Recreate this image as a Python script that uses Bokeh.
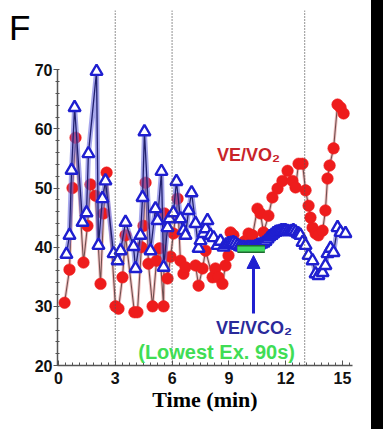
from bokeh.plotting import figure
from bokeh.models import Range1d, Span, Label, Arrow, NormalHead, FixedTicker, Div
from bokeh.layouts import row
from bokeh.embed import file_html
from bokeh.resources import INLINE

# ---- data ----
time_vo2 = [0.32, 0.58, 0.74, 0.90, 1.32, 1.53, 1.69, 1.95, 2.22, 2.38,
            2.54, 3.01, 3.17, 3.38, 3.54, 4.01, 4.17, 4.38, 4.49, 4.60,
            4.75, 4.97, 5.18, 5.34, 5.55, 5.60, 5.76, 5.92, 6.07, 6.29,
            6.44, 6.60, 6.71, 7.24, 7.40, 7.61, 7.77, 8.14, 8.29, 8.45,
            8.66, 8.82, 8.98, 9.09, 9.24, 9.61, 9.83, 10.04, 10.25, 10.51,
            10.67, 10.83, 11.09, 11.30, 11.57, 11.83, 12.10, 12.36, 12.52, 12.68,
            12.89, 13.05, 13.21, 13.31, 13.42, 13.58, 13.73, 13.95, 14.10, 14.21,
            14.32, 14.53, 14.74, 14.90, 15.06]
ve_vo2 = [30.6, 36.2, 50.0, 58.5, 37.4, 43.6, 50.6, 48.7, 33.8, 45.7,
          52.6, 30.0, 29.6, 34.9, 42.0, 29.0, 29.0, 40.0, 43.6, 50.9,
          37.2, 30.0, 37.7, 39.8, 30.0, 45.7, 34.7, 38.4, 42.3, 48.2,
          37.7, 35.5, 36.6, 36.9, 33.5, 36.4, 39.4, 34.9, 36.4, 34.9,
          33.8, 36.9, 38.6, 42.5, 42.0, 40.5, 41.0, 42.3, 42.0, 46.5,
          45.7, 42.5, 45.3, 48.4, 49.9, 51.2, 52.9, 51.2, 50.1, 54.1,
          54.1, 49.6, 47.0, 45.0, 43.3, 42.3, 42.0, 42.8, 46.2, 51.6,
          53.8, 56.7, 64.1, 63.6, 62.6]

time_vco2 = [0.42, 0.58, 0.69, 0.85, 1.27, 1.48, 1.58, 2.01, 2.11, 2.32,
             2.48, 2.91, 3.12, 3.28, 3.54, 3.96, 4.07, 4.33, 4.44, 4.54,
             4.86, 5.12, 5.23, 5.44, 5.55, 5.76, 5.86, 6.07, 6.23, 6.44,
             6.60, 6.71, 6.87, 7.03, 7.24, 7.40, 7.50, 7.66, 7.77, 7.87,
             8.03, 8.19, 8.40, 8.56, 8.72, 8.85, 8.98, 9.11, 9.24, 9.35,
             9.46, 9.57, 9.67, 9.78, 9.88, 9.99, 10.09, 10.20, 10.30, 10.41,
             10.51, 10.62, 10.72, 10.83, 10.94, 11.05, 11.15, 11.26, 11.36, 11.47,
             11.57, 11.68, 11.78, 11.89, 11.99, 12.10, 12.20, 12.31, 12.41, 12.52,
             12.63, 12.70, 12.78, 12.89, 13.05, 13.21, 13.42, 13.58, 13.73, 13.95,
             14.10, 14.21, 14.37, 14.53, 14.74, 14.90, 15.16]
ve_vco2 = [38.8, 42.0, 53.0, 63.6, 44.2, 45.8, 55.8, 69.7, 40.3, 48.2,
           51.2, 38.9, 37.7, 39.4, 44.2, 40.1, 36.4, 42.0, 48.4, 59.5,
           39.4, 46.5, 44.5, 52.8, 36.6, 43.3, 44.8, 45.8, 51.1, 44.8,
           42.8, 42.0, 46.2, 49.2, 44.0, 39.8, 41.1, 42.3, 43.1, 44.5,
           42.0, 41.6, 40.3, 41.0, 40.0, 40.4, 40.6, 40.7, 40.8, 40.6,
           40.3, 40.1, 40.0, 40.0, 39.9, 40.0, 40.0, 40.0, 40.0, 40.1,
           40.3, 40.4, 40.5, 40.7, 41.0, 41.4, 41.8, 42.0, 42.3, 42.5,
           42.6, 42.7, 42.8, 42.8, 42.8, 42.7, 42.6, 42.7, 42.8, 42.6,
           42.3, 42.2, 42.0, 40.8, 40.3, 38.6, 37.7, 35.5, 35.2, 35.7,
           36.9, 38.9, 39.8, 39.1, 43.3, 42.5, 42.3]

lowest_window_t = [9.45, 10.9]      # 90 s window of lowest VE/VCO2
lowest_window_v = [39.7, 39.7]
phase_lines = [3, 6, 13]
x_ticks = [0, 3, 6, 9, 12, 15]
y_ticks = [20, 30, 40, 50, 60, 70]

RED = "#ee1c1c"
BLUE = "#1f1fd0"

p = figure(width=340, height=429, output_backend="svg", toolbar_location=None,
           x_range=Range1d(-0.053, 15.53), y_range=Range1d(20, 80))
p.min_border_left = 26
p.min_border_right = 19
p.min_border_top = 10
p.min_border_bottom = 64
p.outline_line_color = None
p.xgrid.grid_line_color = None
p.ygrid.grid_line_color = None
p.background_fill_color = "white"

for loc in phase_lines:
    p.add_layout(Span(location=loc, dimension="height", line_color="#555555",
                      line_dash="1 2", line_width=1.3))

# VE/VO2 (red circles)
p.line(time_vo2, ve_vo2, line_color="#e07070", line_width=3, line_alpha=0.45)
p.line(time_vo2, ve_vo2, line_color="#705050", line_width=1.1)
p.scatter(time_vo2, ve_vo2, marker="circle", size=11.5, fill_color=RED,
          line_color=RED, line_alpha=0.6)

# VE/VCO2 (blue open triangles)
p.line(time_vco2, ve_vco2, line_color="#6a6ae0", line_width=5, line_alpha=0.6)
p.line(time_vco2, ve_vco2, line_color="#20206e", line_width=1.3)
p.scatter(time_vco2, ve_vco2, marker="triangle", size=12, fill_color="white",
          line_color=BLUE, line_width=2.4)

# lowest 90 s window
p.line(lowest_window_t, lowest_window_v, line_color="#1f6a30", line_width=8)
p.line(lowest_window_t, lowest_window_v, line_color="#40d860", line_width=5)

p.add_layout(Arrow(end=NormalHead(size=13, fill_color=BLUE, line_color=BLUE),
                   x_start=10.3, y_start=28.8, x_end=10.3, y_end=38.6,
                   line_color=BLUE, line_width=3))

p.add_layout(Label(x=10.04, y=55.5, text="VE/VO₂", text_color="#c8242a",
                   text_font="Liberation Sans", text_font_style="bold",
                   text_font_size="18px", text_align="center",
                   text_baseline="middle"))
p.add_layout(Label(x=10.33, y=26.4, text="VE/VCO₂", text_color="#2a2a9a",
                   text_font="Liberation Sans", text_font_style="bold",
                   text_font_size="18px", text_align="center",
                   text_baseline="middle"))
p.add_layout(Label(x=8.35, y=22.2, text="(Lowest Ex. 90s)", text_color="#40dd55",
                   text_font="Liberation Sans", text_font_style="bold",
                   text_font_size="20px", text_align="center",
                   text_baseline="middle"))

# axes
xa = p.xaxis[0]
xa.ticker = FixedTicker(ticks=x_ticks,
                        minor_ticks=[i * 0.375 for i in range(0, 42)])
xa.axis_label = "Time (min)"
xa.axis_label_text_font = "Liberation Serif"
xa.axis_label_text_font_style = "bold"
xa.axis_label_text_font_size = "22px"
xa.axis_label_text_color = "black"
xa.axis_label_standoff = 0
xa.major_label_text_font = "Liberation Sans"
xa.major_label_text_font_style = "bold"
xa.major_label_text_font_size = "16px"
xa.major_label_text_color = "#111111"
xa.major_label_standoff = 6
xa.axis_line_color = "#555555"
xa.axis_line_width = 1.5
xa.major_tick_in = 5
xa.major_tick_out = 0
xa.minor_tick_in = 3
xa.minor_tick_out = 0
xa.major_tick_line_color = "#555555"
xa.minor_tick_line_color = "#555555"

ya = p.yaxis[0]
ya.ticker = FixedTicker(ticks=y_ticks, minor_ticks=list(range(20, 71, 2)))
ya.bounds = (20, 70)
ya.major_label_text_font = "Liberation Sans"
ya.major_label_text_font_style = "bold"
ya.major_label_text_font_size = "16px"
ya.major_label_text_color = "#111111"
ya.major_label_standoff = 1
ya.axis_line_color = "#555555"
ya.axis_line_width = 1.5
ya.major_tick_in = 0
ya.major_tick_out = 4
ya.minor_tick_in = 2
ya.minor_tick_out = 2
ya.major_tick_line_color = "#555555"
ya.minor_tick_line_color = "#555555"

panel_letter = Div(text="F", width=31, height=60, margin=0,
                   styles={"font-family": "Liberation Sans", "font-size": "35px",
                           "color": "black", "padding-left": "9px",
                           "padding-top": "8px", "line-height": "normal"})
strip = Div(text="", width=12, height=429, margin=0,
            styles={"background-color": "black"})

layout = row(panel_letter, p, strip)
open("out.html", "w").write(file_html(layout, INLINE))
